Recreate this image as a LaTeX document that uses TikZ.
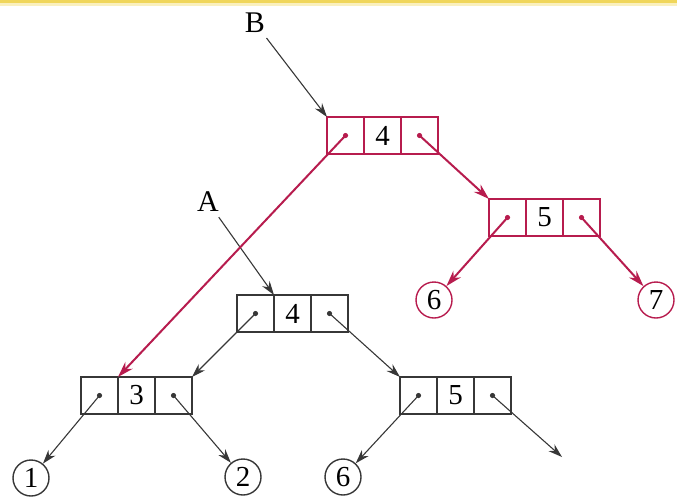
\documentclass[tikz,border=0pt]{standalone}
\usepackage{fontspec}
\setmainfont{Liberation Serif}
\usetikzlibrary{arrows.meta}
\definecolor{crim}{RGB}{183,28,78}
\definecolor{edgegray}{RGB}{55,55,55}
\definecolor{topbar}{RGB}{240,214,90}
\definecolor{topbarlight}{RGB}{250,240,190}
\newcommand\tripcell[5]{%
  \node[cell,draw=#5,anchor=north west] (#1-l) at (#2,#3) {};
  \node[cell,draw=#5,anchor=north west] (#1-m) at (#1-l.north east) {#4};
  \node[cell,draw=#5,anchor=north west] (#1-r) at (#1-m.north east) {};
  \fill[#5] (#1-l.center) circle (2.6pt) (#1-r.center) circle (2.6pt);
}
\begin{document}
\begin{tikzpicture}[x=1pt,y=-1pt,
  cell/.style={draw, minimum width=37pt, minimum height=37pt, inner sep=0pt, outer sep=0pt,
    line width=1.3pt, font=\fontsize{29}{29}\selectfont},
  circ/.style={circle, draw, minimum size=36pt, inner sep=0pt, line width=1.4pt,
    font=\fontsize{29}{29}\selectfont},
  lbl/.style={font=\fontsize{30}{30}\selectfont, inner sep=1pt},
  blk/.style={draw=edgegray, line width=1.1pt, -{Stealth[length=14pt,width=9pt]}},
  red/.style={draw=crim, line width=2pt, -{Stealth[length=16pt,width=10pt]}}]
\useasboundingbox (0,0) rectangle (677,498);
\fill[topbarlight] (0,0) rectangle (677,6);
\fill[topbar] (0,0) rectangle (677,3);

% nodes
\tripcell{B4}{327}{117}{4}{crim}
\tripcell{B5}{489}{199}{5}{crim}
\tripcell{A4}{237}{295}{4}{edgegray}
\tripcell{A3}{81}{377}{3}{edgegray}
\tripcell{A5}{400}{377}{5}{edgegray}

\node[circ,draw=crim] (r6) at (434,300) {6};
\node[circ,draw=crim] (r7) at (656,300) {7};
\node[circ,draw=edgegray] (c1) at (31,478) {1};
\node[circ,draw=edgegray] (c2) at (243,477) {2};
\node[circ,draw=edgegray] (c6) at (343,477) {6};

\node[lbl] (B) at (255,23) {B};
\node[lbl] (A) at (208,202) {A};
\coordinate (free) at (562,457);

% black connectors
\draw[blk, shorten <=5pt] (B) -- (B4-l.north west);
\draw[blk, shorten <=5pt] (A) -- (A4-m.north west);
\draw[blk] (A4-l.center) -- (A3-r.north east);
\draw[blk] (A4-r.center) -- (A5-l.north west);
\draw[blk] (A3-l.center) -- (c1);
\draw[blk] (A3-r.center) -- (c2);
\draw[blk] (A5-l.center) -- (c6);
\draw[blk] (A5-r.center) -- (free);

% red connectors
\draw[red] (B4-l.center) -- (A3-m.north west);
\draw[red] (B4-r.center) -- (B5-l.north west);
\draw[red] (B5-l.center) -- (r6);
\draw[red] (B5-r.center) -- (r7);
\end{tikzpicture}
\end{document}
